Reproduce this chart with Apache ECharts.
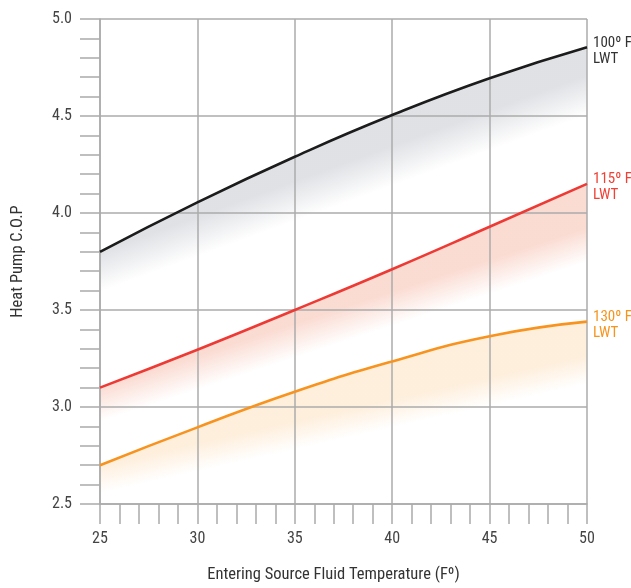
<!DOCTYPE html>
<html>
<head>
<meta charset="utf-8">
<script src="https://cdn.jsdelivr.net/npm/echarts@6/dist/echarts.min.js"></script>
<style>
html,body{margin:0;padding:0;background:#fff;}
#chart{width:631px;height:588px;}
</style>
</head>
<body>
<div id="chart"></div>
<script>
// ---- data ----
const xValues = [25, 30, 35, 40, 45, 50];
const cop100 = [3.80, 4.055, 4.29, 4.505, 4.695, 4.855];
const cop115 = [3.10, 3.295, 3.50, 3.71, 3.929, 4.15];
const cop130 = [2.70, 2.895, 3.079, 3.235, 3.365, 3.44];
const curveLabels = ['100º F\nLWT', '115º F\nLWT', '130º F\nLWT'];
const xAxisTitle = 'Entering Source Fluid Temperature (Fº)';
const yAxisTitle = 'Heat Pump C.O.P';

// ---- styles ----
const FONT = "'Roboto Condensed', 'Liberation Sans Narrow', sans-serif";
const GRID = '#ababab';
const SMOOTH = 0.5;
const curves = [
  { vals: cop100, line: '#1c1c1c', text: '#333333', band: [220, 222, 226], label: curveLabels[0], off: 4, d0: 40, d1: 68 },
  { vals: cop115, line: '#ee3a35', text: '#ef4136', band: [250, 216, 206], label: curveLabels[1], off: 3, d0: 34, d1: 78 },
  { vals: cop130, line: '#f7931e', text: '#f7941d', band: [254, 237, 217], label: curveLabels[2], off: 4, d0: 28, d1: 62 }
];

function makeSeries(gradients) {
  const out = [];
  curves.forEach((c, ci) => {
    out.push({
      type: 'line', smooth: SMOOTH, symbol: 'none', silent: true, z: 2,
      lineStyle: { opacity: 0, width: 0 },
      areaStyle: gradients ? { color: gradients[ci], opacity: 1, origin: 'start' } : { opacity: 0 },
      data: xValues.map((x, i) => [x, c.vals[i]])
    });
  });
  curves.forEach(c => {
    out.push({
      type: 'line', smooth: SMOOTH, symbol: 'none', silent: true, z: 10,
      lineStyle: { color: c.line, width: 2.6 },
      data: xValues.map((x, i) => [x, c.vals[i]]),
      endLabel: {
        show: true, formatter: c.label, color: c.text, fontSize: 15, lineHeight: 16,
        fontFamily: FONT, distance: 6, offset: [0, c.off], align: 'left'
      }
    });
  });
  return out;
}

const axisCommon = {
  type: 'value', z: 5,
  axisLine: { show: true, lineStyle: { color: GRID, width: 1.5 } },
  axisTick: { show: true, length: 20, lineStyle: { color: GRID, width: 1.5 } },
  minorTick: { show: true, splitNumber: 5, length: 20, lineStyle: { color: GRID, width: 1.5 } },
  splitLine: { show: true, lineStyle: { color: GRID, width: 1.5 } },
  minorSplitLine: { show: false },
  nameLocation: 'middle'
};

const chart = echarts.init(document.getElementById('chart'), null, { renderer: 'canvas' });
chart.setOption({
  animation: false,
  backgroundColor: '#ffffff',
  grid: { left: 100, top: 19, width: 487, height: 487, containLabel: false },
  xAxis: Object.assign({}, axisCommon, {
    min: 25, max: 50, interval: 5,
    name: xAxisTitle, nameGap: 62,
    nameTextStyle: { color: '#333', fontSize: 16.5, fontFamily: FONT, padding: [0, 20, 0, 0] },
    axisLabel: { color: '#444', fontSize: 16, fontFamily: FONT, margin: 27 }
  }),
  yAxis: Object.assign({}, axisCommon, {
    min: 2.5, max: 5, interval: 0.5,
    name: yAxisTitle, nameGap: 74,
    nameTextStyle: { color: '#333', fontSize: 16.5, fontFamily: FONT },
    axisLabel: { color: '#444', fontSize: 16, fontFamily: FONT, margin: 28, formatter: v => v.toFixed(1) }
  }),
  series: makeSeries(null)
});

// fading gradients under each curve, in pixel space from the axes' own scales
const gradients = curves.map(c => {
  const n = xValues.length;
  const p0 = chart.convertToPixel({ gridIndex: 0 }, [xValues[0], c.vals[0]]);
  const p1 = chart.convertToPixel({ gridIndex: 0 }, [xValues[n - 1], c.vals[n - 1]]);
  const q0 = [p0[0], p0[1] + c.d0];
  const q1 = [p1[0], p1[1] + c.d1];
  let ux = q1[0] - q0[0], uy = q1[1] - q0[1];
  const len = Math.hypot(ux, uy); ux /= len; uy /= len;
  const nx = -uy, ny = ux; // downward normal
  const dist = (q0[0] - p0[0]) * nx + (q0[1] - p0[1]) * ny;
  const rgb = c.band.join(',');
  return new echarts.graphic.LinearGradient(
    p0[0], p0[1], p0[0] + nx * dist, p0[1] + ny * dist,
    [
      { offset: 0, color: `rgba(${rgb},0.9)` },
      { offset: 0.45, color: `rgba(${rgb},0.5)` },
      { offset: 1, color: `rgba(${rgb},0)` }
    ],
    true
  );
});
chart.setOption({ series: makeSeries(gradients) });
</script>
</body>
</html>
